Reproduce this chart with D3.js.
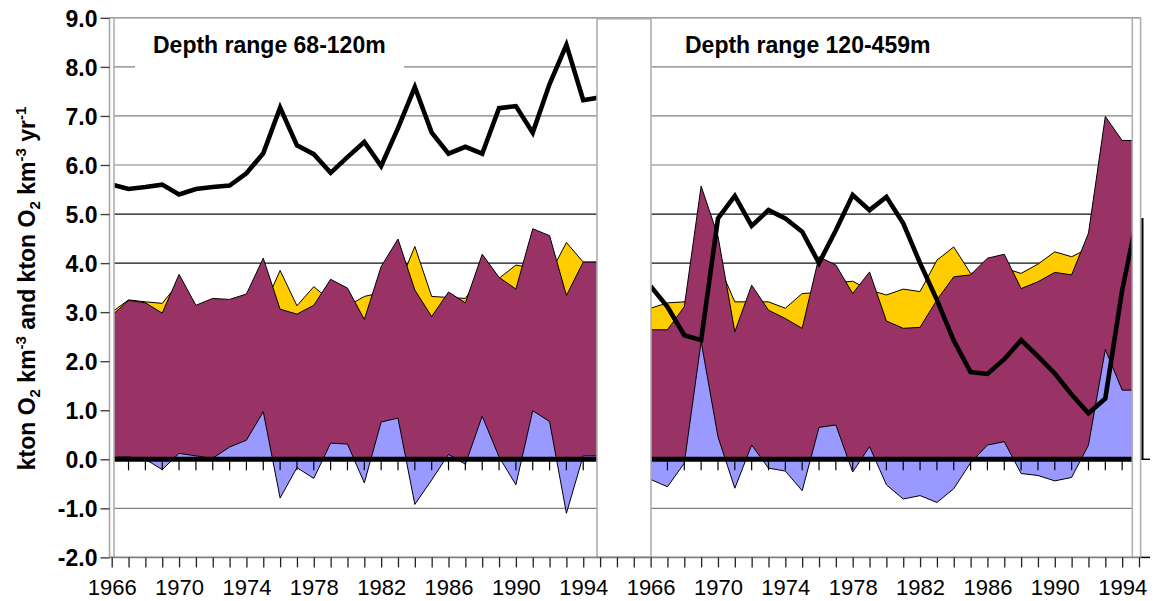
<!DOCTYPE html>
<html><head><meta charset="utf-8">
<script src="https://cdn.jsdelivr.net/npm/d3@7"></script>
<style>
body{margin:0;background:#fff}
svg{display:block;font-family:"Liberation Sans",Arial,sans-serif}
</style>
</head><body>
<svg id="c" width="1155" height="601"></svg>
<script>
// ---------- data ----------
const leftYears  = [1966,1967,1968,1969,1970,1971,1972,1973,1974,1975,1976,1977,1978,1979,1980,1981,1982,1983,1984,1985,1986,1987,1988,1989,1990,1991,1992,1993,1994,1995];
const rightYears = [1966,1967,1968,1969,1970,1971,1972,1973,1974,1975,1976,1977,1978,1979,1980,1981,1982,1983,1984,1985,1986,1987,1988,1989,1990,1991,1992,1993,1994,1995];
const xTickLabels = ["1966","1970","1974","1978","1982","1986","1990","1994"];
const yTicks = [-2,-1,0,1,2,3,4,5,6,7,8,9];
const leftTitle = "Depth range 68-120m";
const rightTitle = "Depth range 120-459m";

// Depth range 68-120m
const leftLine   = [5.60,5.51,5.55,5.60,5.40,5.51,5.55,5.58,5.83,6.24,7.17,6.40,6.22,5.84,6.16,6.47,5.98,6.75,7.59,6.66,6.23,6.37,6.23,7.16,7.20,6.66,7.65,8.45,7.32,7.38];
const leftYellow = [3.00,3.25,3.21,3.18,3.60,3.10,3.25,3.20,3.30,3.08,3.85,3.13,3.52,3.23,3.12,3.32,3.40,3.50,4.34,3.32,3.30,3.28,3.75,3.69,3.96,3.90,3.76,4.42,4.02,4.02];
const leftPurple = [2.93,3.24,3.19,2.98,3.77,3.14,3.28,3.26,3.37,4.10,3.06,2.96,3.14,3.67,3.49,2.85,3.93,4.49,3.45,2.91,3.41,3.19,4.18,3.71,3.47,4.70,4.56,3.34,4.02,4.02];
const leftBlue   = [0.04,0.05,0.00,-0.21,0.12,0.07,0.02,0.25,0.39,0.97,-0.79,-0.17,-0.39,0.33,0.31,-0.48,0.76,0.84,-0.92,-0.42,0.10,-0.10,0.88,0.05,-0.52,0.99,0.77,-1.10,0.07,0.07];

// Depth range 120-459m
const rightLine   = [3.53,3.11,2.53,2.43,4.91,5.37,4.76,5.08,4.91,4.64,4.00,4.67,5.39,5.08,5.35,4.81,4.00,3.25,2.42,1.78,1.74,2.04,2.43,2.10,1.75,1.32,0.94,1.24,3.45,5.10];
const rightYellow = [3.08,3.19,3.21,3.60,4.00,3.21,3.21,3.21,3.08,3.38,3.40,3.60,3.63,3.45,3.35,3.47,3.42,4.06,4.33,3.79,3.85,3.90,3.79,3.98,4.23,4.13,4.30,4.50,4.50,4.50];
const rightPurple = [2.64,2.64,3.11,5.57,4.55,2.60,3.55,3.04,2.87,2.67,4.13,3.96,3.38,3.82,2.82,2.67,2.69,3.25,3.72,3.76,4.10,4.18,3.48,3.62,3.81,3.76,4.61,6.99,6.50,6.50];
const rightBlue   = [-0.41,-0.56,-0.08,2.40,0.46,-0.59,0.29,-0.18,-0.24,-0.64,0.65,0.70,-0.26,0.26,-0.52,-0.81,-0.74,-0.88,-0.60,-0.07,0.29,0.36,-0.29,-0.33,-0.44,-0.37,0.29,2.24,1.41,1.41];

// ---------- layout ----------
const svg = d3.select("#c");
svg.append("rect").attr("width",1155).attr("height",601).attr("fill","#fff");

const slots = [...leftYears.map(y=>"L"+y), "G1", "G2", ...rightYears.map(y=>"R"+y)];
const x = d3.scalePoint().domain(slots).range([111.7, 1139]);
const y = d3.scaleLinear().domain([-2, 9]).range([557.4, 17.85]);

const axisX = 109.5;
const panels = [
  {prefix:"L", years:leftYears, x0:114, x1:597, yellow:leftYellow, purple:leftPurple, blue:leftBlue, line:leftLine, id:"clipL"},
  {prefix:"R", years:rightYears, x0:651, x1:1132, yellow:rightYellow, purple:rightPurple, blue:rightBlue, line:rightLine, id:"clipR"}
];

const defs = svg.append("defs");
panels.forEach(p=>{
  defs.append("clipPath").attr("id",p.id).append("rect")
    .attr("x",p.x0).attr("y",y(9)).attr("width",p.x1-p.x0).attr("height",y(-2)-y(9));
});

function gridColor(v){
  if (v>=6) return "#808080";
  if (v===-1) return "#808080";
  return "#111";
}

// gridlines
panels.forEach(p=>{
  yTicks.filter(v=>v!==-2 && v!==0 && v!==9).forEach(v=>{
    svg.append("line").attr("x1",p.x0).attr("x2",p.x1)
      .attr("y1",y(v)).attr("y2",y(v))
      .attr("stroke",gridColor(v)).attr("stroke-width",1.2);
  });
});
// top line (9.0)
svg.append("line").attr("x1",axisX).attr("x2",1140.5).attr("y1",y(9)).attr("y2",y(9))
  .attr("stroke","#808080").attr("stroke-width",1.4);

// white box behind left title
svg.append("rect").attr("x",135).attr("y",y(9)+1.5).attr("width",404-135).attr("height",60).attr("fill","#fff");

// areas & lines
const area = key => d3.area()
  .x((d,i)=>x(key.prefix+key.years[i]))
  .y0(y(0)).y1(d=>y(d));
const lineGen = key => d3.line()
  .x((d,i)=>x(key.prefix+key.years[i]))
  .y(d=>y(d));

panels.forEach(p=>{
  const g = svg.append("g").attr("clip-path",`url(#${p.id})`);
  g.append("path").datum(p.yellow).attr("d",area(p)).attr("fill","#FFCC00").attr("stroke","#000").attr("stroke-width",1);
  g.append("path").datum(p.purple).attr("d",area(p)).attr("fill","#993366").attr("stroke","#000").attr("stroke-width",1);
  g.append("path").datum(p.blue).attr("d",area(p)).attr("fill","#9999FF").attr("stroke","#000").attr("stroke-width",1);
  // zero axis
  g.append("line").attr("x1",p.x0).attr("x2",p.x1).attr("y1",y(0)).attr("y2",y(0))
    .attr("stroke","#000").attr("stroke-width",5);
  // zero axis ticks
  p.years.forEach(yr=>{
    const xx = x(p.prefix+yr);
    g.append("line").attr("x1",xx).attr("x2",xx).attr("y1",y(0)+2).attr("y2",y(0)+11)
      .attr("stroke","#000").attr("stroke-width",1.2);
  });
  g.append("path").datum(p.line).attr("d",lineGen(p)).attr("fill","none")
    .attr("stroke","#000").attr("stroke-width",4.6).attr("stroke-linejoin","miter");
});

// gap box between panels
svg.append("rect").attr("x",597).attr("y",y(9)+1).attr("width",651-597).attr("height",y(-2)-y(9)-1)
  .attr("fill","#fff").attr("stroke","#b0b0b0").attr("stroke-width",1.6);

// panel border lines
[[axisX,"#a8a8a8"],[114,"#b0b0b0"],[1132.3,"#b0b0b0"],[1140.6,"#b0b0b0"]].forEach(([xx,c])=>{
  svg.append("line").attr("x1",xx).attr("x2",xx).attr("y1",y(9)).attr("y2",y(-2))
    .attr("stroke",c).attr("stroke-width",1.6);
});

// bottom axis line
svg.append("line").attr("x1",axisX).attr("x2",1142).attr("y1",y(-2)).attr("y2",y(-2))
  .attr("stroke","#808080").attr("stroke-width",1.6);

// y axis
const yAxis = d3.axisLeft(y).tickValues(yTicks).tickSize(9).tickPadding(3).tickFormat(v=>v.toFixed(1));
const yg = svg.append("g").attr("transform",`translate(${axisX},0)`).call(yAxis);
yg.select(".domain").remove();
yg.selectAll(".tick line").attr("stroke","#404040").attr("stroke-width",1.4);
yg.selectAll(".tick text").attr("fill","#000").attr("font-size",23).attr("font-weight","bold")
  .attr("font-family","'Liberation Sans',Arial,sans-serif").attr("dy","0.36em");

// x axis (bottom)
const labelSet = new Set(xTickLabels);
const xAxis = d3.axisBottom(x).tickValues(slots).tickSize(10)
  .tickFormat(s => (s[0]!=="G" && labelSet.has(s.slice(1))) ? s.slice(1) : "");
const xg = svg.append("g").attr("transform",`translate(0,${y(-2)})`).call(xAxis);
xg.select(".domain").remove();
xg.selectAll(".tick line").attr("stroke","#222").attr("stroke-width",1.3);
xg.selectAll(".tick text").attr("fill","#000").attr("font-size",22).attr("font-weight","normal")
  .attr("font-family","'Liberation Sans',Arial,sans-serif").attr("dy",null).attr("y",38);

// right-hand black stub axis
svg.append("line").attr("x1",1142.5).attr("x2",1142.5).attr("y1",218).attr("y2",y(0))
  .attr("stroke","#000").attr("stroke-width",2);
[y(0), y(-2)].forEach(yy=>{
  svg.append("line").attr("x1",1141.5).attr("x2",1150).attr("y1",yy).attr("y2",yy)
    .attr("stroke","#000").attr("stroke-width",1.5);
});

// panel titles
svg.append("text").attr("x",153).attr("y",53).attr("font-size",23).attr("font-weight","bold").text(leftTitle);
svg.append("text").attr("x",685).attr("y",53).attr("font-size",23).attr("font-weight","bold").text(rightTitle);

// y-axis title
const yt = svg.append("text").attr("transform","translate(35,288.5) rotate(-90)")
  .attr("text-anchor","middle").attr("font-size",23).attr("font-weight","bold");
const parts = [
  ["kton O",0],["2",1],[" km",0],["-3",2],[" and kton O",0],["2",1],[" km",0],["-3",2],[" yr",0],["-1",2]
];
let cur = 0;
parts.forEach(([t,k])=>{
  const target = k===1 ? 5 : (k===2 ? -9 : 0);
  yt.append("tspan").attr("dy", target-cur).attr("font-size", k? 15 : 23).text(t);
  cur = target;
});
</script>
</body></html>
